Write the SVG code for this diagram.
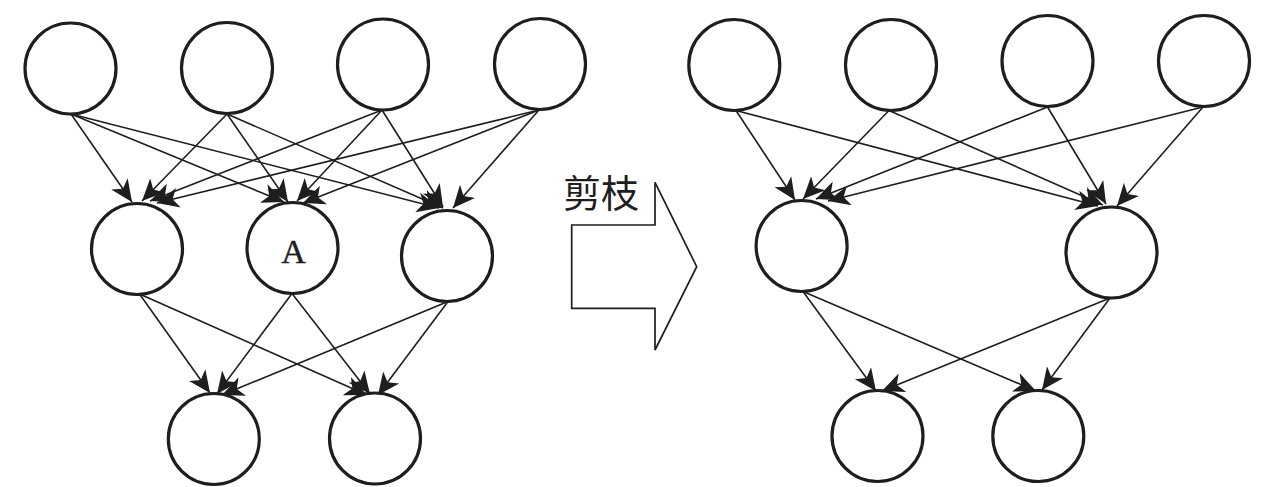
<svg xmlns="http://www.w3.org/2000/svg" width="1276" height="487" viewBox="0 0 1276 487">
<style>
.node{fill:#fff;stroke:#1e1e1e;stroke-width:3.2}
.edge{stroke:#1e1e1e;stroke-width:1.6;fill:none;marker-end:url(#ah)}
.lbl{font-family:"Liberation Serif","Times New Roman",serif;font-size:34px;fill:#1e1e1e;text-anchor:middle;stroke:#1e1e1e;stroke-width:0.4}
.cjk{font-family:"Liberation Serif","Noto Sans CJK SC",serif;font-size:38px;fill:#1e1e1e}
.big{fill:#fff;stroke:#1e1e1e;stroke-width:1.7;stroke-linejoin:miter}
</style>
<defs>
<marker id="ah" markerUnits="userSpaceOnUse" viewBox="0 -11 23 22" markerWidth="23" markerHeight="22" refX="22" refY="0" orient="auto">
<path d="M22,0 L0,-10 L6,0 L0,10 Z" fill="#1e1e1e"/>
</marker>
</defs>
<rect width="1276" height="487" fill="#fff"/>
<g id="connectors">
<line class="edge" x1="71" y1="114" x2="132" y2="202"/>
<line class="edge" x1="71" y1="114" x2="284" y2="202"/>
<line class="edge" x1="71" y1="114" x2="439" y2="208"/>
<line class="edge" x1="227" y1="114" x2="142" y2="201"/>
<line class="edge" x1="227" y1="114" x2="288" y2="202"/>
<line class="edge" x1="227" y1="114" x2="443" y2="208"/>
<line class="edge" x1="382" y1="110" x2="150" y2="201"/>
<line class="edge" x1="382" y1="110" x2="297" y2="201"/>
<line class="edge" x1="382" y1="110" x2="443" y2="207"/>
<line class="edge" x1="539" y1="110" x2="157" y2="203"/>
<line class="edge" x1="539" y1="110" x2="303" y2="203"/>
<line class="edge" x1="539" y1="110" x2="453" y2="208"/>
<line class="edge" x1="139.5" y1="294" x2="210" y2="393"/>
<line class="edge" x1="139.5" y1="294" x2="367" y2="395"/>
<line class="edge" x1="292" y1="293.5" x2="217" y2="394"/>
<line class="edge" x1="292" y1="293.5" x2="370" y2="394"/>
<line class="edge" x1="448" y1="301.5" x2="222" y2="395"/>
<line class="edge" x1="448" y1="301.5" x2="378" y2="395"/>
<line class="edge" x1="736" y1="110.5" x2="795" y2="200"/>
<line class="edge" x1="736" y1="110.5" x2="1098" y2="206"/>
<line class="edge" x1="889" y1="110.5" x2="803" y2="199"/>
<line class="edge" x1="889" y1="110.5" x2="1103" y2="205"/>
<line class="edge" x1="1047.5" y1="107" x2="816" y2="199"/>
<line class="edge" x1="1047.5" y1="107" x2="1106" y2="204"/>
<line class="edge" x1="1203" y1="107" x2="828" y2="201"/>
<line class="edge" x1="1203" y1="107" x2="1117" y2="206"/>
<line class="edge" x1="803" y1="291.5" x2="876" y2="391"/>
<line class="edge" x1="803" y1="291.5" x2="1036" y2="391"/>
<line class="edge" x1="1110" y1="298" x2="882" y2="391"/>
<line class="edge" x1="1110" y1="298" x2="1042" y2="390"/>
</g>
<g id="L_t1"><circle class="node" cx="70.5" cy="68.5" r="45.5"/></g>
<g id="L_t2"><circle class="node" cx="227" cy="68" r="45.5"/></g>
<g id="L_t3"><circle class="node" cx="383" cy="64.5" r="45.5"/></g>
<g id="L_t4"><circle class="node" cx="540" cy="64" r="45.5"/></g>
<g id="L_m1"><circle class="node" cx="137" cy="249" r="45.5"/></g>
<g id="L_A"><circle class="node" cx="292.5" cy="248" r="45.5"/><text class="lbl" x="293.5" y="263">A</text></g>
<g id="L_m3"><circle class="node" cx="447" cy="256" r="45.5"/></g>
<g id="L_b1"><circle class="node" cx="213.8" cy="439" r="45.5"/></g>
<g id="L_b2"><circle class="node" cx="375" cy="438.5" r="45.5"/></g>
<g id="R_t1"><circle class="node" cx="734.3" cy="65" r="45.5"/></g>
<g id="R_t2"><circle class="node" cx="891" cy="65" r="45.5"/></g>
<g id="R_t3"><circle class="node" cx="1047.5" cy="61" r="45.5"/></g>
<g id="R_t4"><circle class="node" cx="1204" cy="61" r="45.5"/></g>
<g id="R_m1"><circle class="node" cx="801.6" cy="246" r="45.5"/></g>
<g id="R_m2"><circle class="node" cx="1111.5" cy="252.5" r="45.5"/></g>
<g id="R_b1"><circle class="node" cx="877.5" cy="436" r="45.5"/></g>
<g id="R_b2"><circle class="node" cx="1038.3" cy="436" r="45.5"/></g>
<g id="prune">
<polygon class="big" points="571.7,225 655,225 655,182.3 696.7,266.7 655,350 655,308.3 571.7,308.3"/>
<text class="cjk" x="563" y="207">剪枝</text>
</g>
</svg>
